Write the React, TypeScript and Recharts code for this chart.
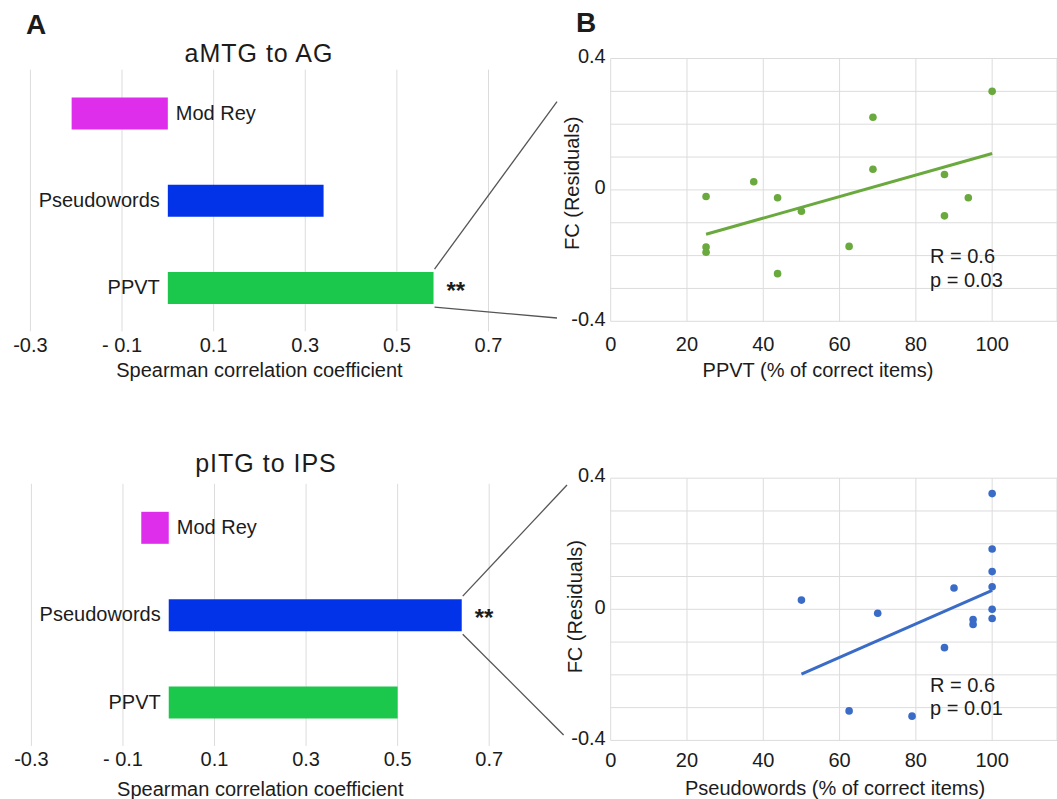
import React from 'react';
import {
  BarChart,
  Bar,
  Cell,
  LabelList,
  XAxis,
  YAxis,
  CartesianGrid,
  ScatterChart,
  Scatter,
  ReferenceLine,
} from 'recharts';

const FONT = '"Liberation Sans", Arial, Helvetica, sans-serif';
const INK = '#1c1c1c';
const GRID = '#dcdcdc';

// Panel A: Spearman correlation of each measure with FC
const measures = ['Mod Rey', 'Pseudowords', 'PPVT'];
const measureColors = ['#de2eec', '#0333e8', '#1cc84b'];
const rhoAmtgAg = [-0.21, 0.34, 0.58];
const rhoPitgIps = [-0.06, 0.64, 0.5];
const sigAmtgAg = ['', '', '**'];
const sigPitgIps = ['', '**', ''];
const rhoTicks = [-0.3, -0.1, 0.1, 0.3, 0.5, 0.7];
const rhoTickLabels = ['-0.3', '- 0.1', '0.1', '0.3', '0.5', '0.7'];

// Panel B: FC residuals vs. score
const pctTicks = [0, 20, 40, 60, 80, 100];
const fcTicks = [-0.4, -0.3, -0.2, -0.1, 0, 0.1, 0.2, 0.3, 0.4];
const fcTickLabels = ['-0.4', '', '', '', '0', '', '', '', '0.4'];

const ppvtPct = [25, 25, 25, 37.5, 43.75, 43.75, 50, 62.5, 68.75, 68.75, 87.5, 87.5, 93.75, 100];
const ppvtFc = [-0.02, -0.174, -0.19, 0.025, -0.024, -0.255, -0.065, -0.172, 0.221, 0.063, 0.047, -0.079, -0.024, 0.3];
const ppvtFitX = [25, 100];
const ppvtFitY = [-0.135, 0.111];

const pseudoPct = [50, 62.5, 70, 79, 87.5, 90, 95, 95, 100, 100, 100, 100, 100, 100];
const pseudoFc = [0.028, -0.31, -0.012, -0.326, -0.117, 0.065, -0.031, -0.046, 0.353, 0.184, 0.115, 0.069, 0, -0.028];
const pseudoFitX = [50, 100];
const pseudoFitY = [-0.198, 0.058];

type Margin = { top: number; right: number; bottom: number; left: number };

interface RhoBarsProps {
  top: number;
  height: number;
  rho: number[];
  sig: string[];
  margin: Margin;
  tickGap: number;
  titleOffset: number;
  zoomTo: [number, number][];
}

const RhoBars: React.FC<RhoBarsProps> = ({ top, height, rho, sig, margin, tickGap, titleOffset, zoomTo }) => {
  const rows = measures.map((name, i) => ({ name, rho: rho[i] }));

  const renderTick = (props: any) => {
    const i = rhoTicks.indexOf(props.payload.value);
    return (
      <text x={props.x} y={props.y + tickGap} dy="0.36em" textAnchor="middle" fontSize={20} fill={INK} fontFamily={FONT}>
        {rhoTickLabels[i]}
      </text>
    );
  };

  // category name next to the zero line, stars + zoom lines for significant bars
  const renderLabel = (props: any) => {
    const vb = props.viewBox && props.viewBox.width !== undefined ? props.viewBox : props;
    const i = measures.indexOf(props.value);
    if (i < 0) return null;
    const left = Math.min(vb.x, vb.x + vb.width);
    const right = Math.max(vb.x, vb.x + vb.width);
    const cy = vb.y + vb.height / 2;
    const neg = rho[i] < 0;
    const zero = neg ? right : left;
    return (
      <g>
        <text
          x={neg ? zero + 8 : zero - 8}
          y={cy + 6}
          textAnchor={neg ? 'start' : 'end'}
          fontSize={20}
          fill={INK}
          fontFamily={FONT}
        >
          {measures[i]}
        </text>
        {sig[i] && (
          <g>
            <text x={right + 13} y={cy + 10.5} fontSize={24} fontWeight="bold" fill={INK} fontFamily={FONT}>
              {sig[i]}
            </text>
            <line x1={right + 1} y1={vb.y - 3} x2={zoomTo[0][0]} y2={zoomTo[0][1]} stroke="#555" strokeWidth={1.3} />
            <line x1={right + 1} y1={vb.y + vb.height + 3} x2={zoomTo[1][0]} y2={zoomTo[1][1]} stroke="#555" strokeWidth={1.3} />
          </g>
        )}
      </g>
    );
  };

  return (
    <div style={{ position: 'absolute', left: 0, top }}>
      <BarChart width={570} height={height} data={rows} layout="vertical" margin={margin}>
        <CartesianGrid horizontal={false} stroke={GRID} />
        <XAxis
          type="number"
          domain={[-0.3, 0.7]}
          ticks={rhoTicks}
          axisLine={false}
          tickLine={false}
          tickSize={0}
          tickMargin={0}
          height={30}
          tick={renderTick}
          label={{
            value: 'Spearman correlation coefficient',
            position: 'bottom',
            offset: titleOffset,
            fontSize: 20,
            fill: INK,
            fontFamily: FONT,
          }}
        />
        <YAxis type="category" dataKey="name" hide width={0} />
        <Bar dataKey="rho" barSize={32} isAnimationActive={false}>
          {rows.map((r, i) => (
            <Cell key={r.name} fill={measureColors[i]} />
          ))}
          <LabelList dataKey="name" content={renderLabel} />
        </Bar>
      </BarChart>
    </div>
  );
};

interface FcScatterProps {
  top: number;
  height: number;
  xs: number[];
  ys: number[];
  fitX: number[];
  fitY: number[];
  color: string;
  xTitle: string;
  margin: Margin;
  tickGap: number;
  xTitleOffset: number;
  xTitleDx: number;
  yTitleX: number;
  yTitleDy: number;
}

const FcScatter: React.FC<FcScatterProps> = ({
  top, height, xs, ys, fitX, fitY, color, xTitle, margin, tickGap, xTitleOffset, xTitleDx, yTitleX, yTitleDy,
}) => {
  const points = xs.map((x, i) => ({ x, y: ys[i] }));

  const renderXTick = (props: any) => (
    <text x={props.x} y={props.y + tickGap} dy="0.36em" textAnchor="middle" fontSize={20} fill={INK} fontFamily={FONT}>
      {props.payload.value}
    </text>
  );

  const renderYTick = (props: any) => {
    const i = fcTicks.indexOf(props.payload.value);
    return (
      <text x={props.x} y={props.y - 3} dy="0.36em" textAnchor="end" fontSize={20} fill={INK} fontFamily={FONT}>
        {fcTickLabels[i]}
      </text>
    );
  };

  return (
    <div style={{ position: 'absolute', left: 530, top }}>
      <ScatterChart width={527} height={height} margin={margin}>
        <CartesianGrid stroke={GRID} />
        <XAxis
          type="number"
          dataKey="x"
          domain={[0, 117]}
          ticks={pctTicks}
          axisLine={false}
          tickLine={false}
          tickSize={0}
          tickMargin={0}
          height={30}
          tick={renderXTick}
          label={{
            value: xTitle,
            position: 'bottom',
            offset: xTitleOffset,
            dx: xTitleDx,
            fontSize: 20,
            fill: INK,
            fontFamily: FONT,
          }}
        />
        <YAxis
          type="number"
          dataKey="y"
          domain={[-0.4, 0.4]}
          ticks={fcTicks}
          axisLine={false}
          tickLine={false}
          tickSize={0}
          tickMargin={5}
          width={80.7}
          tick={renderYTick}
          label={{
            value: 'FC (Residuals)',
            angle: -90,
            position: 'insideLeft',
            offset: yTitleX,
            dy: yTitleDy,
            style: { textAnchor: 'middle' },
            fontSize: 20,
            fill: INK,
            fontFamily: FONT,
          }}
        />
        <ReferenceLine
          segment={[
            { x: fitX[0], y: fitY[0] },
            { x: fitX[1], y: fitY[1] },
          ]}
          stroke={color}
          strokeWidth={3}
        />
        <Scatter
          data={points}
          isAnimationActive={false}
          shape={(p: any) => <circle cx={p.cx} cy={p.cy} r={3.8} fill={color} />}
        />
      </ScatterChart>
    </div>
  );
};

export default function App() {
  return (
    <div
      style={{
        position: 'absolute',
        left: 0,
        top: 0,
        width: 1057,
        height: 799,
        overflow: 'hidden',
        background: '#fff',
        fontFamily: FONT,
      }}
    >
      <RhoBars
        top={0}
        height={400}
        rho={rhoAmtgAg}
        sig={sigAmtgAg}
        margin={{ top: 69.6, right: 81.5, bottom: 38.7, left: 30.4 }}
        tickGap={13.2}
        titleOffset={1.7}
        zoomTo={[[557, 101.7], [557, 318]]}
      />
      <RhoBars
        top={400}
        height={399}
        rho={rhoPitgIps}
        sig={sigPitgIps}
        margin={{ top: 83.8, right: 80.8, bottom: 23.1, left: 31.4 }}
        tickGap={12.4}
        titleOffset={5.4}
        zoomTo={[[567, 85], [563.6, 335]]}
      />
      <FcScatter
        top={40}
        height={360}
        xs={ppvtPct}
        ys={ppvtFc}
        fitX={ppvtFitX}
        fitY={ppvtFitY}
        color="#6aa93d"
        xTitle="PPVT (% of correct items)"
        margin={{ top: 18.5, right: 0, bottom: 48.7, left: 0 }}
        tickGap={22}
        xTitleOffset={11.7}
        xTitleDx={-15.9}
        yTitleX={42}
        yTitleDy={-6.6}
      />
      <FcScatter
        top={460}
        height={339}
        xs={pseudoPct}
        ys={pseudoFc}
        fitX={pseudoFitX}
        fitY={pseudoFitY}
        color="#3a6cc7"
        xTitle="Pseudowords (% of correct items)"
        margin={{ top: 18.2, right: 0, bottom: 28.6, left: 0 }}
        tickGap={19.6}
        xTitleOffset={10.1}
        xTitleDx={1.2}
        yTitleX={45.4}
        yTitleDy={-2.6}
      />
      <svg
        width={1057}
        height={799}
        style={{ position: 'absolute', left: 0, top: 0, pointerEvents: 'none' }}
        fontFamily={FONT}
        fill={INK}
      >
        <text x={26} y={33.5} fontSize={28} fontWeight="bold">A</text>
        <text x={576} y={32} fontSize={28} fontWeight="bold">B</text>
        <text x={259} y={61.7} fontSize={25} letterSpacing={1} textAnchor="middle">aMTG to AG</text>
        <text x={266} y={471.7} fontSize={25} letterSpacing={1} textAnchor="middle">pITG to IPS</text>
        <text x={930} y={263.3} fontSize={20}>R = 0.6</text>
        <text x={930} y={287.3} fontSize={20}>p = 0.03</text>
        <text x={930} y={691.7} fontSize={20}>R = 0.6</text>
        <text x={930} y={715} fontSize={20}>p = 0.01</text>
      </svg>
    </div>
  );
}
